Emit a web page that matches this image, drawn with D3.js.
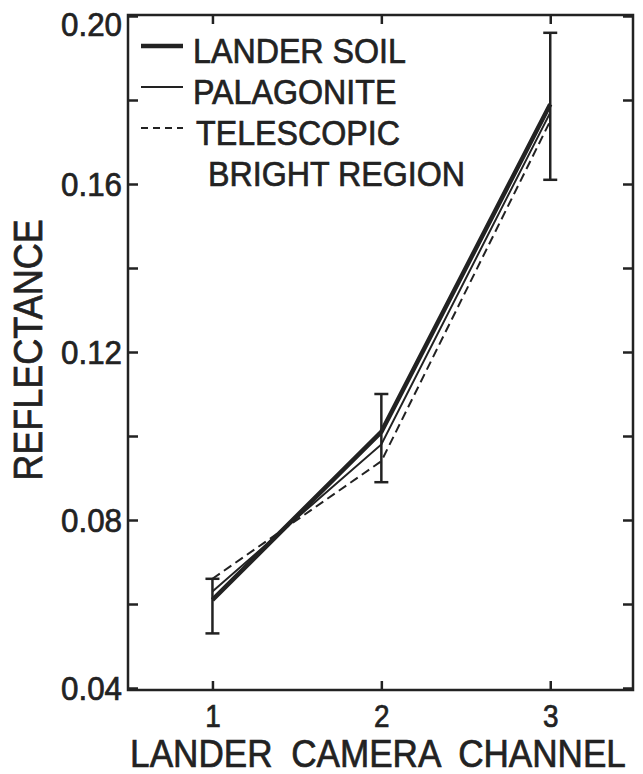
<!DOCTYPE html>
<head>
  <meta charset="utf-8">
  <script src="https://d3js.org/d3.v7.min.js"></script>
  <style>
    body { margin:0; background:#fff; }
    svg { display:block; }
    text { font-family: "Liberation Sans", Arial, sans-serif; fill:#222; stroke:#222; stroke-width:0.7px; }
  </style>
</head>
<body>
  <svg width="643" height="774"></svg>
  <script>
    // data
    var channels = [1, 2, 3];
    var landerSoil = [0.061, 0.101, 0.179];
    var palagonite = [0.063, 0.098, 0.177];
    var telescopic = [0.066, 0.094, 0.175];
    var errLow = [0.053, 0.089, 0.161];
    var errHigh = [0.066, 0.110, 0.196];
    var yTicks = [0.04, 0.06, 0.08, 0.10, 0.12, 0.14, 0.16, 0.18, 0.20];
    var yTickLabels = ['0.04', '0.08', '0.12', '0.16', '0.20'];
    var legendNames = ['LANDER SOIL', 'PALAGONITE', 'TELESCOPIC', 'BRIGHT REGION'];

    var ink = '#222';
    var svg = d3.select('svg');

    var x = d3.scaleLinear().domain([0.5, 3.49]).range([128, 633]);
    var y = d3.scaleLinear().domain([0.04, 0.20]).range([688, 16]);

    // squeeze text horizontally, the lettering is narrow
    function squeeze(sel, k) {
      sel.each(function() {
        var w = this.getComputedTextLength();
        d3.select(this).attr('textLength', w * k).attr('lengthAdjust', 'spacingAndGlyphs');
      });
    }

    // frame
    svg.append('rect')
      .attr('x', x.range()[0]).attr('y', 15)
      .attr('width', x.range()[1] - x.range()[0]).attr('height', 690 - 15)
      .attr('fill', 'none').attr('stroke', ink).attr('stroke-width', 2.5);

    // axes, ticks pointing inward
    var leftAx = svg.append('g')
      .attr('transform', 'translate(' + x.range()[0] + ',0)')
      .call(d3.axisLeft(y).tickValues(yTicks).tickSize(-10).tickPadding(6)
        .tickFormat(d => yTickLabels.indexOf(d.toFixed(2)) >= 0 ? d.toFixed(2) : ''));
    var rightAx = svg.append('g')
      .attr('transform', 'translate(' + x.range()[1] + ',0)')
      .call(d3.axisRight(y).tickValues(yTicks).tickSize(-10).tickFormat(''));
    var bottomAx = svg.append('g')
      .attr('transform', 'translate(0,690)')
      .call(d3.axisBottom(x).tickValues(channels).tickSize(-9).tickPadding(15).tickFormat(d3.format('d')));
    var topAx = svg.append('g')
      .attr('transform', 'translate(0,15)')
      .call(d3.axisTop(x).tickValues(channels).tickSize(-9).tickFormat(''));

    [leftAx, rightAx, bottomAx, topAx].forEach(g => {
      g.select('.domain').remove();
      g.selectAll('line').attr('stroke', ink).attr('stroke-width', 2.5);
    });
    leftAx.selectAll('text').attr('font-size', 33).attr('fill', ink)
      .attr('dy', d => d >= 0.2 ? '0.58em' : '0.36em')
      .style('font-family', '"Liberation Sans", Arial, sans-serif').call(squeeze, 0.95);
    bottomAx.selectAll('text').attr('font-size', 31).attr('dy', '0.71em').attr('fill', ink)
      .style('font-family', '"Liberation Sans", Arial, sans-serif').call(squeeze, 0.9);

    // error bars
    var capW = 7;
    var bars = svg.append('g').attr('stroke', ink).attr('stroke-width', 2.5);
    channels.forEach((c, i) => {
      bars.append('line').attr('x1', x(c)).attr('x2', x(c)).attr('y1', y(errLow[i])).attr('y2', y(errHigh[i]));
      bars.append('line').attr('x1', x(c) - capW).attr('x2', x(c) + capW).attr('y1', y(errLow[i])).attr('y2', y(errLow[i]));
      bars.append('line').attr('x1', x(c) - capW).attr('x2', x(c) + capW).attr('y1', y(errHigh[i])).attr('y2', y(errHigh[i]));
    });

    // series lines
    var line = d3.line().x((d, i) => x(channels[i])).y(d => y(d));
    var series = [
      {values: landerSoil, width: 4.5, dash: null},
      {values: palagonite, width: 2, dash: null},
      {values: telescopic, width: 2, dash: '9,5'}
    ];
    series.forEach(s => {
      svg.append('path')
        .attr('d', line(s.values))
        .attr('fill', 'none')
        .attr('stroke', ink)
        .attr('stroke-width', s.width)
        .attr('stroke-dasharray', s.dash);
    });

    // legend
    var legend = svg.append('g');
    series.forEach((s, i) => {
      var by = 63 + i * 41;
      legend.append('line')
        .attr('x1', 141).attr('x2', 183).attr('y1', by - 17).attr('y2', by - 17)
        .attr('stroke', ink).attr('stroke-width', s.width)
        .attr('stroke-dasharray', s.dash ? '7,5' : null);
    });
    legend.selectAll('text').data(legendNames).enter().append('text')
      .attr('x', (d, i) => i == 3 ? 208 : (i == 2 ? 196 : 193))
      .attr('y', (d, i) => 63 + i * 41)
      .attr('font-size', 35)
      .text(d => d)
      .call(squeeze, 0.92);

    // axis titles
    svg.append('text')
      .attr('transform', 'translate(42,350) rotate(-90)')
      .attr('text-anchor', 'middle')
      .attr('font-size', 40)
      .text('REFLECTANCE')
      .call(squeeze, 0.9);
    svg.append('text')
      .attr('transform', 'translate(378,767) scale(0.9,1)')
      .attr('text-anchor', 'middle')
      .attr('font-size', 39)
      .attr('word-spacing', 10)
      .text('LANDER CAMERA CHANNEL');
  </script>
</body>
